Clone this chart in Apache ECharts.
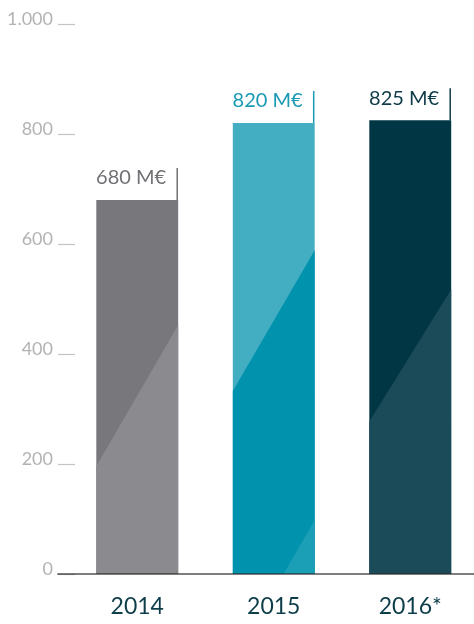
<!DOCTYPE html>
<html>
<head>
<meta charset="utf-8">
<script src="https://cdn.jsdelivr.net/npm/echarts@6/dist/echarts.min.js"></script>
<style>
  html, body { margin: 0; padding: 0; background: #fff; }
  #chart { width: 474px; height: 624px; }
</style>
</head>
<body>
<div id="chart"></div>
<script>
var years = ['2014', '2015', '2016*']
var revenue = [680, 820, 825]
var valueLabels = ['680 M€', '820 M€', '825 M€']
var yTickLabels = ['0', '200', '400', '600', '800', '1.000']

// colours of each bar + where the diagonal cuts the bar (share of bar height, left / right edge)
var barStyles = [
  { upper: '#78787c', lower: '#8b8b8f', text: '#717175', diag: [0.288, 0.666] },
  { upper: '#43aec2', lower: '#0193ae', text: '#1a9ab3', diag: [0.406, 0.718], stripe: '#1b9fb6' },
  { upper: '#013644', lower: '#1b4b59', text: '#0f3b48', diag: [0.336, 0.627] }
]

// one bar with its shading, the value label and the little marker line
function renderBar(params, api) {
  var i = params.dataIndex
  var s = barStyles[i]
  var top = api.coord([api.value(0), api.value(1)])
  var base = api.coord([api.value(0), 0])
  var w = api.size([1, 0])[0] * 0.6
  var L = top[0] - w / 2
  var R = top[0] + w / 2
  var h = base[1] - top[1]
  var children = [
    { type: 'rect', shape: { x: L, y: top[1], width: w, height: h }, style: { fill: s.upper } },
    {
      type: 'polygon',
      shape: { points: [[L, base[1] - h * s.diag[0]], [R, base[1] - h * s.diag[1]], [R, base[1]], [L, base[1]]] },
      style: { fill: s.lower }
    }
  ]
  if (s.stripe) {
    children.push({
      type: 'polygon',
      shape: { points: [[L + w * 0.62, base[1]], [R, base[1] - h * 0.12], [R, base[1]]] },
      style: { fill: s.stripe }
    })
  }
  children.push({
    type: 'line',
    shape: { x1: R - 1, y1: top[1] - 32, x2: R - 1, y2: top[1] },
    style: { stroke: s.text, lineWidth: 1.5 }
  })
  children.push({
    type: 'text',
    style: {
      text: valueLabels[i], x: R - 12, y: top[1] - 22,
      align: 'right', verticalAlign: 'middle',
      fill: s.text, fontSize: 20, fontFamily: 'Lato'
    }
  })
  return { type: 'group', children: children }
}

function revenueChart() {
  var myChart = echarts.init(document.getElementById('chart'))
  var option = {
    animation: false,
    grid: [
      { left: 58, right: 0, top: 24, bottom: 50 },
      { left: 69, right: 0, top: 24, bottom: 50 }
    ],
    xAxis: [
      {
        gridIndex: 0,
        type: 'value',
        min: 0,
        max: 1,
        z: 10,
        axisLine: { show: true, lineStyle: { color: 'rgba(40,40,40,0.6)', width: 2 } },
        axisTick: { show: false },
        axisLabel: { show: false },
        splitLine: { show: false }
      },
      {
        // value axis so the last band may run past the right edge
        gridIndex: 1,
        type: 'value',
        min: -0.5,
        max: 2.467,
        axisLine: { show: false },
        axisTick: { show: false },
        splitLine: { show: false },
        axisLabel: {
          customValues: [0, 1, 2],
          formatter: function (v) { return years[Math.round(v)] },
          margin: 21,
          color: '#0e3d4a',
          fontSize: 23,
          fontFamily: 'Lato'
        }
      }
    ],
    yAxis: [
      {
        gridIndex: 0,
        type: 'value',
        min: 0,
        max: 1000,
        interval: 200,
        axisLine: { show: false },
        axisTick: { show: true, inside: true, length: 17, lineStyle: { color: '#c4c4c4', width: 1.2 } },
        splitLine: { show: false },
        axisLabel: {
          margin: 5,
          color: '#b3b3b3',
          fontSize: 18,
          fontFamily: 'Lato',
          verticalAlign: 'bottom',
          lineHeight: 10,
          formatter: function (v) { return yTickLabels[v / 200] }
        }
      },
      {
        gridIndex: 1,
        type: 'value',
        min: 0,
        max: 1000,
        show: false
      }
    ],
    series: [
      {
        type: 'custom',
        xAxisIndex: 1,
        yAxisIndex: 1,
        renderItem: renderBar,
        data: revenue.map(function (v, i) { return [i, v] })
      }
    ]
  }
  myChart.setOption(option)
}

revenueChart()
</script>
</body>
</html>
